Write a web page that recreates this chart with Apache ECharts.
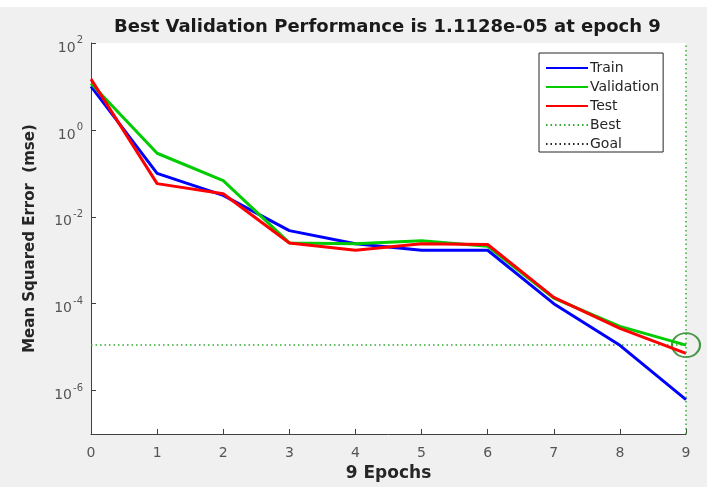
<!DOCTYPE html>
<html>
<head>
<meta charset="utf-8">
<script src="https://cdn.jsdelivr.net/npm/echarts@6/dist/echarts.min.js"></script>
<style>
html,body{margin:0;padding:0;background:#f0f0f0;}
#chart{width:707px;height:487px;}
</style>
</head>
<body>
<div id="chart"></div>
<script>
// ---- data ----
var epochs = [0, 1, 2, 3, 4, 5, 6, 7, 8, 9];
var trainPerf = [10, 0.1, 0.031, 0.0048, 0.0024, 0.0017, 0.0017, 1.0e-4, 1.1e-5, 6.2e-7];
var valPerf = [11.7, 0.29, 0.068, 0.0025, 0.0024, 0.0028, 0.0021, 1.35e-4, 3.0e-5, 1.1128e-5];
var testPerf = [14.7, 0.058, 0.034, 0.0025, 0.0017, 0.0024, 0.0023, 1.4e-4, 2.7e-5, 7.2e-6];
var bestEpoch = 9;
var bestPerf = 1.1128e-5;
var xTicks = [0, 1, 2, 3, 4, 5, 6, 7, 8, 9];
var yTickValues = [1e-6, 1e-4, 1e-2, 1, 100];
var legendNames = ['Train', 'Validation', 'Test', 'Best', 'Goal'];
var titleText = 'Best Validation Performance is 1.1128e-05 at epoch 9';
var xName = '9 Epochs';
var yName = 'Mean Squared Error  (mse)';

function pairs(xs, ys) { return xs.map(function (x, i) { return [x, ys[i]]; }); }

var FONT = 'DejaVu Sans';
var chart = echarts.init(document.getElementById('chart'), null, {renderer: 'canvas'});
var dotted = [1.5, 3];
// horizontal "best" line spans the epoch range at the best validation value
var bestLine = [[epochs[0], bestPerf], [epochs[epochs.length - 1], bestPerf]];

var option = {
  animation: false,
  backgroundColor: '#f0f0f0',
  graphic: [
    {type: 'rect', left: 0, top: 0, shape: {width: 707, height: 7}, style: {fill: '#ffffff'}, silent: true, z: -10}
  ],
  title: {
    text: titleText,
    left: 114, top: 18, padding: 0,
    textStyle: {fontFamily: FONT, fontSize: 18, fontWeight: 'bold', color: '#1a1a1a'}
  },
  grid: {left: 91, right: 21, top: 43, bottom: 53, show: true, backgroundColor: '#ffffff', borderWidth: 0},
  legend: {
    data: legendNames,
    orient: 'vertical',
    left: 539, top: 53,
    padding: [8, 4, 1, 6],
    itemGap: 5, itemWidth: 42, itemHeight: 12,
    itemStyle: {color: 'rgba(0,0,0,0)', borderColor: 'rgba(0,0,0,0)', borderWidth: 0, opacity: 0},
    backgroundColor: '#ffffff', borderColor: '#262626', borderWidth: 1, borderRadius: 0,
    textStyle: {fontFamily: FONT, fontSize: 14, color: '#262626', padding: [0, 0, 0, -3]}
  },
  xAxis: {
    type: 'value', min: 0, max: 9, interval: 1,
    name: xName, nameLocation: 'middle', nameGap: 31,
    nameTextStyle: {fontFamily: FONT, fontSize: 17, fontWeight: 'bold', color: '#262626'},
    axisLine: {show: true, lineStyle: {color: '#404040', width: 1}},
    axisTick: {show: true, inside: true, length: 5, lineStyle: {color: '#404040'}},
    axisLabel: {margin: 12, fontFamily: FONT, fontSize: 14, color: '#555555',
      formatter: function (v) { return xTicks.indexOf(v) >= 0 ? String(v) : ''; }},
    splitLine: {show: false}
  },
  yAxis: {
    type: 'log', logBase: 10, min: 1e-7, max: 100,
    name: yName, nameLocation: 'middle', nameGap: 53,
    nameTextStyle: {fontFamily: FONT, fontSize: 15, fontWeight: 'bold', color: '#262626'},
    axisLine: {show: true, lineStyle: {color: '#404040', width: 1}},
    axisTick: {show: true, inside: true, length: 5, lineStyle: {color: '#404040'}, customValues: yTickValues},
    axisLabel: {
      margin: 8, customValues: yTickValues,
      formatter: function (v) {
        var e = Math.round(Math.log(v) / Math.LN10);
        if (e % 2 !== 0) return '';
        return '{b|10}{e|' + e + '}';
      },
      rich: {
        b: {fontFamily: FONT, fontSize: 14, color: '#555555', padding: [10, 0, 0, 0]},
        e: {fontFamily: FONT, fontSize: 10, color: '#555555', padding: [0, 0, 5, 1]}
      }
    },
    splitLine: {show: false}
  },
  series: [
    {name: 'Train', type: 'line', data: pairs(epochs, trainPerf), symbol: 'none', showSymbol: false,
      lineStyle: {color: '#0000ff', width: 3}, itemStyle: {color: '#0000ff'}},
    {name: 'Validation', type: 'line', data: pairs(epochs, valPerf), symbol: 'none', showSymbol: false,
      lineStyle: {color: '#00cc00', width: 3}, itemStyle: {color: '#00cc00'}},
    {name: 'Test', type: 'line', data: pairs(epochs, testPerf), symbol: 'none', showSymbol: false,
      lineStyle: {color: '#ff0000', width: 3}, itemStyle: {color: '#ff0000'}},
    {name: 'Best', type: 'line', data: bestLine, symbol: 'none', showSymbol: false, z: 1,
      lineStyle: {color: '#33aa33', width: 1.5, type: dotted}, itemStyle: {color: '#33aa33'},
      markLine: {
        silent: true, symbol: ['none', 'none'], label: {show: false},
        lineStyle: {color: '#33aa33', width: 1.5, type: dotted},
        data: [{xAxis: bestEpoch}]
      }},
    {name: 'Goal', type: 'line', data: [], symbol: 'none',
      lineStyle: {color: '#262626', width: 1.5, type: dotted}, itemStyle: {color: '#262626'}},
    {name: 'BestMarker', type: 'scatter', data: [[bestEpoch, bestPerf]], clip: false, silent: true,
      symbol: 'circle', symbolSize: [28, 24],
      itemStyle: {color: 'rgba(0,0,0,0)', borderColor: '#1b7f1b', borderWidth: 2}}
  ]
};
chart.setOption(option);
</script>
</body>
</html>
